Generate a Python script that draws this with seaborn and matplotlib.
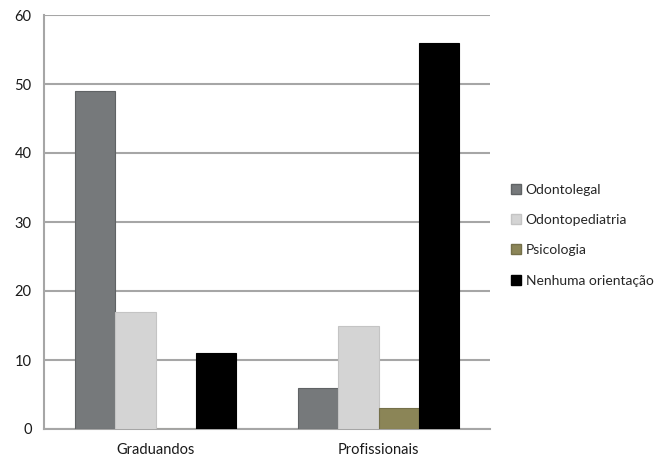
import matplotlib
matplotlib.use("Agg")
import matplotlib.pyplot as plt
import seaborn as sns
import pandas as pd
from matplotlib.patches import Patch

categories = ["Graduandos", "Profissionais"]
series = ["Odontolegal", "Odontopediatria", "Psicologia", "Nenhuma orientação"]
odontolegal = [49, 6]
odontopediatria = [17, 15]
psicologia = [0, 3]
nenhuma = [11, 56]
colors = ["#76797b", "#d4d4d4", "#8b8557", "#000000"]
edges = ["#606365", "#c4c4c4", "#75704a", "#000000"]

rows = []
for s, vals in zip(series, [odontolegal, odontopediatria, psicologia, nenhuma]):
    for c, v in zip(categories, vals):
        rows.append({"cat": c, "serie": s, "valor": v})
df = pd.DataFrame(rows)

sns.set_style("white")
plt.rcParams['font.family'] = ['Lato', 'DejaVu Sans']

fig = plt.figure(figsize=(6.64, 4.59), dpi=100)
ax = fig.add_axes([44/664, 1 - 429/459, (490-44)/664, (429-15)/459])

sns.barplot(data=df, x="cat", y="valor", hue="serie", order=categories,
            hue_order=series, palette=colors, width=0.72, gap=0,
            saturation=1, ax=ax, legend=False, zorder=3)

for cont, ec in zip(ax.containers, edges):
    for p in cont:
        p.set_edgecolor(ec)
        p.set_linewidth(0.8)

ax.set_ylim(0, 60)
ax.set_xlim(-0.5, 1.5)
ax.set_yticks(range(0, 61, 10))
ax.yaxis.grid(True, color="#a6a6a6", linewidth=1.5, zorder=0)
ax.set_axisbelow(True)
ax.set_xlabel("")
ax.set_ylabel("")
for s in ["top", "right"]:
    ax.spines[s].set_visible(False)
for s in ["left", "bottom"]:
    ax.spines[s].set_color("#a6a6a6")
    ax.spines[s].set_linewidth(1.5)

ax.tick_params(axis="y", length=5, width=1.5, color="#a6a6a6", labelsize=10.5, pad=4)
ax.tick_params(axis="x", which="major", length=0, labelsize=10.5, pad=10)
ax.set_xticks([-0.5, 0.5, 1.5], minor=True)
ax.tick_params(axis="x", which="minor", length=5, width=1.5, color="#a6a6a6")
for lab in ax.get_yticklabels() + ax.get_xticklabels():
    lab.set_color("#1a1a1a")

handles = [Patch(facecolor=c, edgecolor=e, label=s) for s, c, e in zip(series, colors, edges)]
fig.legend(handles=handles, loc="upper left", bbox_to_anchor=(505/664, 1 - 178/459),
           frameon=False, fontsize=10, handlelength=0.75, handleheight=0.75,
           handletextpad=0.35, labelspacing=1.32, borderaxespad=0)

fig.savefig("out.png", dpi=100)
